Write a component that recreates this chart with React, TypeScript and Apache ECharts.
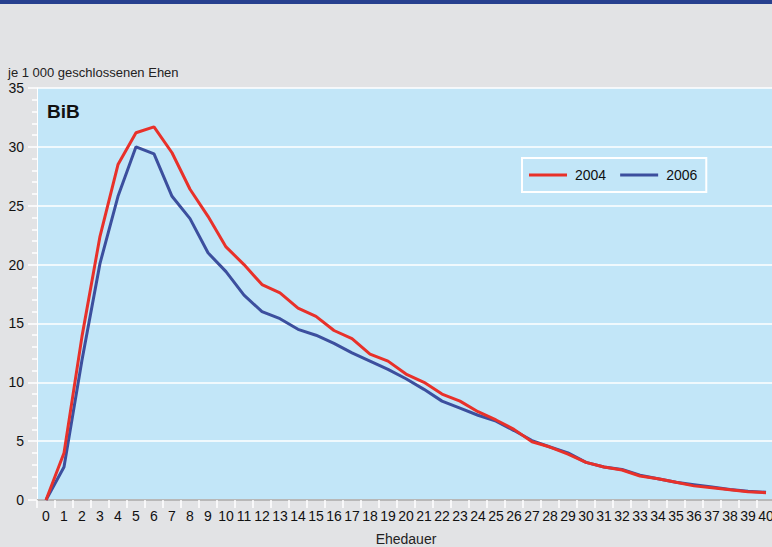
import React, { useEffect, useRef } from "react";
import * as echarts from "echarts";

const categories: string[] = Array.from({ length: 41 }, (_, i) => String(i));
const series2004: number[] = [
  0, 4.0, 13.9, 22.4, 28.5, 31.2, 31.7, 29.5, 26.4, 24.1,
  21.5, 20.0, 18.3, 17.6, 16.3, 15.6, 14.4, 13.7, 12.4, 11.8,
  10.7, 10.0, 9.0, 8.4, 7.5, 6.8, 6.0, 4.95, 4.5, 3.9,
  3.2, 2.8, 2.55, 2.04, 1.8, 1.5, 1.2, 1.05, 0.88, 0.7, 0.62,
];
const series2006: number[] = [
  0, 2.8, 11.9, 20.1, 25.8, 30.0, 29.4, 25.8, 23.9, 21.0,
  19.4, 17.4, 16.0, 15.4, 14.5, 14.0, 13.3, 12.5, 11.8, 11.1,
  10.3, 9.4, 8.4, 7.8, 7.2, 6.7, 5.9, 5.05, 4.5, 4.0,
  3.2, 2.8, 2.6, 2.1, 1.8, 1.5, 1.3, 1.1, 0.9, 0.75, 0.65,
];
const seriesNames: string[] = ["2004", "2006"];
const yTicks = { min: 0, max: 35, interval: 5 };

const FONT = "Liberation Sans, Arial, sans-serif";

export default function App() {
  const ref = useRef<HTMLDivElement>(null);
  useEffect(() => {
    if (!ref.current) return;
    const chart = echarts.init(ref.current, null, { renderer: "svg" });
    chart.setOption({
      animation: false,
      backgroundColor: "#e2e3e5",
      title: {
        text: "BiB",
        left: 42,
        top: 97,
        textStyle: { fontFamily: FONT, fontSize: 19, fontWeight: "bold", color: "#111" },
      },
      graphic: [
        { type: "rect", left: 0, top: 0, shape: { width: 772, height: 4 }, style: { fill: "#27408f" } },
        {
          type: "text",
          left: 8,
          top: 66,
          style: { text: "je 1 000 geschlossenen Ehen", font: `13px ${FONT}`, fill: "#222" },
        },
      ],
      legend: {
        data: seriesNames,
        left: 522,
        top: 158,
        orient: "horizontal",
        backgroundColor: "#c2e6f8",
        borderColor: "#ffffff",
        borderWidth: 2,
        padding: [10, 9, 10, 7],
        itemWidth: 38,
        itemHeight: 3,
        itemGap: 14,
        icon: "rect",
        textStyle: { fontFamily: FONT, fontSize: 14, color: "#111", padding: [0, 0, 0, 3] },
      },
      grid: {
        left: 37,
        top: 88,
        bottom: 47,
        right: -3,
        outerBoundsMode: "none",
        containLabel: false,
        show: true,
        backgroundColor: "#c2e6f8",
        borderWidth: 0,
      },
      xAxis: {
        type: "category",
        data: categories,
        boundaryGap: true,
        name: "Ehedauer",
        nameLocation: "middle",
        nameGap: 32,
        nameTextStyle: { fontFamily: FONT, fontSize: 14, color: "#222" },
        axisLine: { show: true, lineStyle: { color: "#b8b8b8", width: 2 } },
        axisTick: { show: true, length: 8, lineStyle: { color: "#ffffff", width: 1.5 } },
        axisLabel: { interval: 0, margin: 9, fontFamily: FONT, fontSize: 14, color: "#111" },
        splitLine: { show: false },
      },
      yAxis: {
        type: "value",
        min: yTicks.min,
        max: yTicks.max,
        interval: yTicks.interval,
        axisLine: { show: true, lineStyle: { color: "#ffffff", width: 1 } },
        axisTick: { show: true, length: 9, lineStyle: { color: "#ffffff", width: 1.5 } },
        minorTick: { show: true, splitNumber: 5, length: 5, lineStyle: { color: "#ffffff", width: 1.5 } },
        axisLabel: { margin: 13, fontFamily: FONT, fontSize: 14, color: "#111" },
        splitLine: { show: true, lineStyle: { color: "#ffffff", width: 1.5 } },
      },
      series: [
        {
          name: seriesNames[0],
          type: "line",
          data: series2004,
          symbol: "none",
          z: 3,
          lineStyle: { color: "#e8312a", width: 3 },
          itemStyle: { color: "#e8312a" },
        },
        {
          name: seriesNames[1],
          type: "line",
          data: series2006,
          symbol: "none",
          z: 2,
          lineStyle: { color: "#3c4f9e", width: 3 },
          itemStyle: { color: "#3c4f9e" },
        },
      ],
    });
    return () => chart.dispose();
  }, []);
  return (
    <div
      ref={ref}
      style={{ position: "absolute", left: 0, top: 0, width: 772, height: 547 }}
    />
  );
}
